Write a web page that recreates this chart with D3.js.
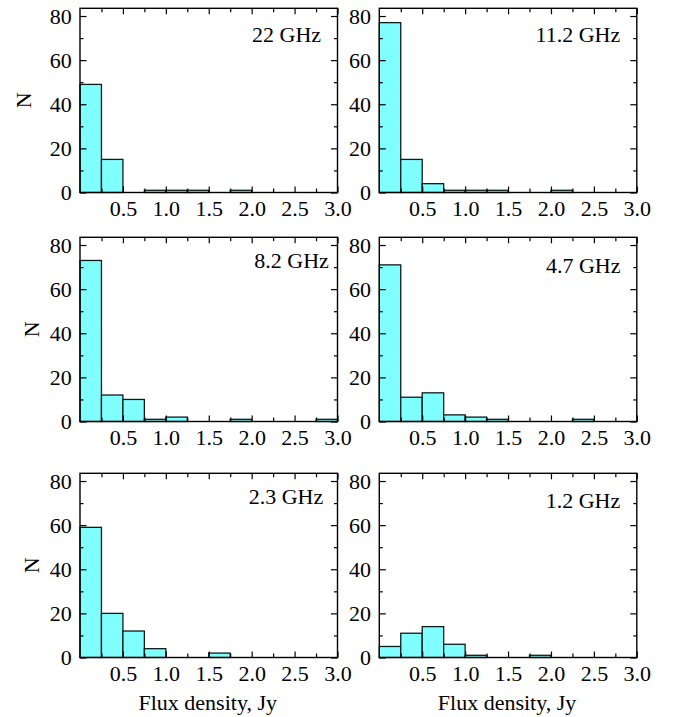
<!DOCTYPE html>
<html>
<head>
<meta charset="utf-8">
<script src="https://cdn.jsdelivr.net/npm/d3@7"></script>
<style>
  html, body { margin: 0; padding: 0; background: #fff; }
  svg { display: block; }
  text { font-family: "Liberation Serif", "Times New Roman", serif; fill: #000; }
</style>
</head>
<body>
<svg id="chart" width="679" height="717"></svg>
<script>
// Histogram bins: flux density 0–3 Jy in steps of 0.25 Jy
const binEdges = [0, 0.25, 0.5, 0.75, 1.0, 1.25, 1.5, 1.75, 2.0, 2.25, 2.5, 2.75, 3.0];

// Source counts per bin for each observing frequency
const frequencies = ["22 GHz", "11.2 GHz", "8.2 GHz", "4.7 GHz", "2.3 GHz", "1.2 GHz"];
const counts22   = [49, 15, 0, 1, 1, 1, 0, 1, 0, 0, 0, 0];
const counts11_2 = [77, 15, 4, 1, 1, 1, 0, 0, 1, 0, 0, 0];
const counts8_2  = [73, 12, 10, 1, 2, 0, 0, 1, 0, 0, 0, 1];
const counts4_7  = [71, 11, 13, 3, 2, 1, 0, 0, 0, 1, 0, 0];
const counts2_3  = [59, 20, 12, 4, 0, 0, 2, 0, 0, 0, 0, 0];
const counts1_2  = [5, 11, 14, 6, 1, 0, 0, 1, 0, 0, 0, 0];
const seriesCounts = [counts22, counts11_2, counts8_2, counts4_7, counts2_3, counts1_2];

// Axis ticks
const xMajorTicks = [0.5, 1.0, 1.5, 2.0, 2.5, 3.0];
const xMinorTicks = [0.25, 0.75, 1.25, 1.75, 2.25, 2.75];
const yMajorTicks = [0, 20, 40, 60, 80];
const yMinorTicks = [10, 30, 50, 70];
const yMax = 83.5;

const xTitle = "Flux density, Jy";
const yTitle = "N";

// Panel grid layout
const colLeft = [80, 379.3];
const rowTop = [8.3, 237.3, 473.3];
const panelW = 257.5;
const panelH = 184.2;
// frequency label placement: [offset from right edge, baseline offset from top]
const labelPos = [[16.4, 34.2], [16.6, 33.4], [8.7, 31], [16.3, 35.4], [14.3, 31], [16.6, 34.4]];
// y title baseline x per row
const yTitleX = [30.7, 39.3, 39.3];

const fontSize = 22;
const svg = d3.select("#chart");

seriesCounts.forEach((counts, i) => {
  const col = i % 2, row = Math.floor(i / 2);
  const x0 = colLeft[col], y0 = rowTop[row];
  const g = svg.append("g").attr("transform", `translate(${x0},${y0})`);

  const x = d3.scaleLinear().domain([0, 3]).range([0, panelW]);
  const y = d3.scaleLinear().domain([0, yMax]).range([panelH, 0]);

  const bins = counts.map((c, k) => ({ x0: binEdges[k], x1: binEdges[k + 1], n: c }));

  // bars
  g.selectAll("rect.bar")
    .data(bins.filter(d => d.n > 0))
    .join("rect")
    .attr("class", "bar")
    .attr("x", d => x(d.x0))
    .attr("y", d => y(d.n))
    .attr("width", d => x(d.x1) - x(d.x0))
    .attr("height", d => y(0) - y(d.n))
    .attr("fill", "#80ffff")
    .attr("stroke", "#0e1c1c")
    .attr("stroke-width", 1.3);

  const styleAxis = sel => {
    sel.select(".domain").remove();
    sel.selectAll(".tick line").attr("stroke", "#000").attr("stroke-width", 1.2);
    sel.selectAll("text").style("font-size", fontSize + "px")
      .style("font-family", '"Liberation Serif", "Times New Roman", serif').attr("fill", "#000");
  };

  // bottom axis with labels, ticks pointing inward
  g.append("g").attr("transform", `translate(0,${panelH})`)
    .call(d3.axisBottom(x).tickValues(xMajorTicks).tickFormat(d3.format(".1f")).tickSize(-6).tickPadding(8))
    .call(styleAxis);
  g.append("g").attr("transform", `translate(0,${panelH})`)
    .call(d3.axisBottom(x).tickValues(xMinorTicks).tickFormat("").tickSize(-4))
    .call(styleAxis);
  // top axis
  g.append("g")
    .call(d3.axisTop(x).tickValues(xMajorTicks).tickFormat("").tickSize(-6))
    .call(styleAxis);
  g.append("g")
    .call(d3.axisTop(x).tickValues(xMinorTicks).tickFormat("").tickSize(-4))
    .call(styleAxis);
  // left axis with labels
  g.append("g")
    .call(d3.axisLeft(y).tickValues(yMajorTicks).tickFormat(d3.format("d")).tickSize(-6.5).tickPadding(8.3))
    .call(styleAxis);
  g.append("g")
    .call(d3.axisLeft(y).tickValues(yMinorTicks).tickFormat("").tickSize(-3.5))
    .call(styleAxis);
  // right axis
  g.append("g").attr("transform", `translate(${panelW},0)`)
    .call(d3.axisRight(y).tickValues(yMajorTicks).tickFormat("").tickSize(-6.5))
    .call(styleAxis);
  g.append("g").attr("transform", `translate(${panelW},0)`)
    .call(d3.axisRight(y).tickValues(yMinorTicks).tickFormat("").tickSize(-3.5))
    .call(styleAxis);

  // frame
  g.append("rect")
    .attr("x", 0).attr("y", 0).attr("width", panelW).attr("height", panelH)
    .attr("fill", "none").attr("stroke", "#000").attr("stroke-width", 1.4);

  // frequency label
  g.append("text")
    .attr("x", panelW - labelPos[i][0])
    .attr("y", labelPos[i][1])
    .attr("text-anchor", "end")
    .style("font-size", fontSize + "px")
    .text(frequencies[i]);

  // y title on the left column
  if (col === 0) {
    svg.append("text")
      .attr("transform", `translate(${yTitleX[row]},${y0 + panelH / 2}) rotate(-90)`)
      .attr("text-anchor", "middle")
      .style("font-size", fontSize + "px")
      .text(yTitle);
  }
  // x title on the bottom row
  if (row === 2) {
    g.append("text")
      .attr("x", panelW / 2 - 1)
      .attr("y", panelH + 53)
      .attr("text-anchor", "middle")
      .style("font-size", fontSize + "px")
      .text(xTitle);
  }
});
</script>
</body>
</html>
